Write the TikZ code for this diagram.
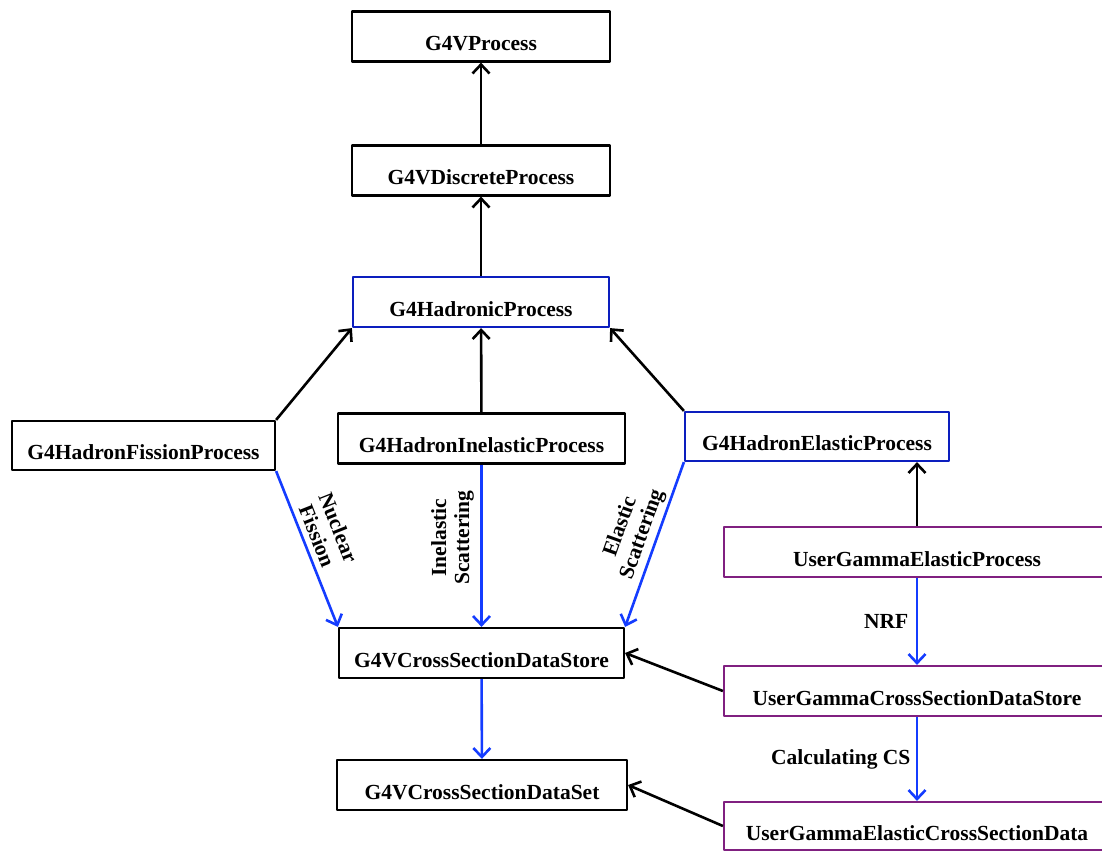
\documentclass[tikz,border=0pt]{standalone}
\usepackage{fontspec}
\setmainfont{Liberation Serif}
\usetikzlibrary{arrows.meta}

\definecolor{hadblue}{RGB}{12,30,190}
\definecolor{flowblue}{RGB}{20,60,255}
\definecolor{userpurple}{RGB}{128,32,128}

\begin{document}
\begin{tikzpicture}[
    x = 1pt, y = -1pt,
    line join=round,
    font = \fontsize{21.5}{24}\selectfont\bfseries,
    classbox/.style = {draw, line width=2.2pt, fill=white, inner sep=0pt,
        minimum height=50pt, text height=28pt, text depth=0pt},
    hadbox/.style = {classbox, draw=hadblue},
    userbox/.style = {classbox, draw=userpurple},
    inherit/.style = {line width=2.6pt, -{Straight Barb[length=9pt,width=17pt,line width=2.6pt]}},
    flow/.style = {inherit, flowblue},
    lbl/.style = {align=center, text=black, font=\fontsize{21.5}{23}\selectfont\bfseries}
]
    \clip (0,0) rectangle (1102,851);

    % base classes
    \node[classbox, minimum width=258pt] (proc) at (481,36.5) {G4VProcess};
    \node[classbox, minimum width=258pt] (disc) at (481,170.5) {G4VDiscreteProcess};
    \node[hadbox, minimum width=256pt] (hadr) at (481,302) {G4HadronicProcess};

    % hadronic processes
    \node[classbox, minimum width=263pt, minimum height=49pt] (fiss) at (143.5,445.5) {G4HadronFissionProcess};
    \node[classbox, minimum width=287pt] (inel) at (481.5,438.5) {G4HadronInelasticProcess};
    \node[hadbox, minimum width=264pt, minimum height=49pt] (elas) at (817,436.5) {G4HadronElasticProcess};

    % cross sections
    \node[classbox, minimum width=285pt] (store) at (481.5,653) {G4VCrossSectionDataStore};
    \node[classbox, minimum width=290pt] (dset) at (482,785) {G4VCrossSectionDataSet};

    % user classes
    \node[userbox, minimum width=386pt] (ugep) at (917,552) {UserGammaElasticProcess};
    \node[userbox, minimum width=386pt] (ugcs) at (917,691) {UserGammaCrossSectionDataStore};
    \node[userbox, minimum width=386pt, minimum height=48pt] (ugxs) at (917,826) {UserGammaElasticCrossSectionData};

    % inheritance
    \draw[inherit] (disc) -- (proc);
    \draw[inherit] (hadr) -- (disc);
    \draw[inherit] (fiss.north east) -- (hadr.south west);
    \draw[inherit] (inel) -- (hadr);
    \draw[inherit] (elas.north west) -- (hadr.south east);
    \draw[inherit] (ugep.north) -- (ugep.north |- elas.south);
    \draw[inherit] (ugcs.west) -- (store.east);
    \draw[inherit] (ugxs.west) -- (dset.east);

    % data flow
    \draw[flow] (fiss.south east) -- node[lbl, sloped, above, pos=0.45, yshift=2pt] {Nuclear\\Fission} (store.north west);
    \draw[flow] (inel) -- node[lbl, rotate=90, anchor=south, pos=0.45, yshift=3pt] {Inelastic\\Scattering} (store);
    \draw[flow] (elas.south west) -- node[lbl, sloped, above, pos=0.47] {Elastic\\Scattering} (store.north east);
    \draw[flow] (store) -- (dset);
    \draw[flow] (ugep) -- node[lbl, left, xshift=-4pt] {NRF} (ugcs);
    \draw[flow] (ugcs) -- node[lbl, left, xshift=-2pt] {Calculating CS} (ugxs);

\end{tikzpicture}
\end{document}
